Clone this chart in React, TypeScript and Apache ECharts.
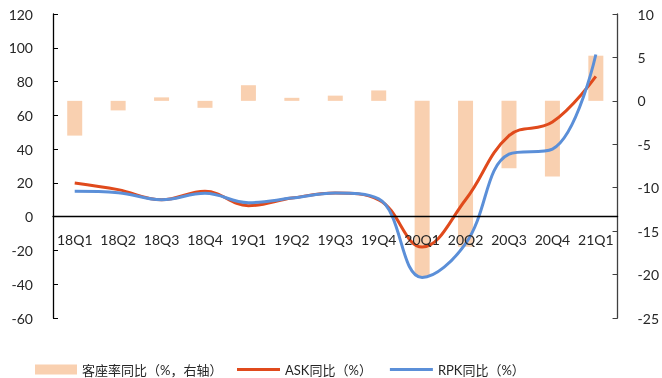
import React, { useEffect, useRef } from "react";
import * as echarts from "echarts";

// Quarter labels
const quarters = [
  "18Q1", "18Q2", "18Q3", "18Q4", "19Q1", "19Q2", "19Q3",
  "19Q4", "20Q1", "20Q2", "20Q3", "20Q4", "21Q1",
];

// Load factor YoY change (pct points, right axis)
const loadFactorYoY = [-4.0, -1.1, 0.4, -0.8, 1.8, 0.35, 0.6, 1.2, -20.2, -16.8, -7.75, -8.7, 5.2];

// ASK YoY (%)
const askYoY = [20, 16, 10, 15, 6.5, 11, 14, 10, -18, 10, 48, 56, 83];

// RPK YoY (%)
const rpkYoY = [15, 14.2, 10, 13.8, 8.3, 11, 14, 10.5, -36, -16, 37, 40, 96];

const FONT = "Lato, 'Noto Sans CJK SC', sans-serif";
const TEXT = "#262626";
const AXIS = "#404040";

// plot area geometry
const GRID_TOP = 14;
const GRID_BOTTOM = 60;
const CHART_H = 378;
const LEFT_MIN = -60;
const LEFT_MAX = 120;

export default function App() {
  const ref = useRef<HTMLDivElement>(null);

  useEffect(() => {
    if (!ref.current) return;
    const chart = echarts.init(ref.current, null, { renderer: "svg" });
    // category axis sits on the left axis' zero line
    const plotH = CHART_H - GRID_TOP - GRID_BOTTOM;
    const zeroOffset = (plotH * (0 - LEFT_MIN)) / (LEFT_MAX - LEFT_MIN);
    chart.setOption({
      animation: false,
      textStyle: { fontFamily: FONT },
      grid: { left: 53, right: 44, top: GRID_TOP, bottom: GRID_BOTTOM, containLabel: false },
      legend: [
        {
          left: 30,
          top: 358,
          itemWidth: 42,
          itemHeight: 10,
          icon: "rect",
          textStyle: { fontSize: 13, color: TEXT, fontFamily: FONT },
          data: ["客座率同比（%，右轴）"],
        },
        {
          left: 232,
          top: 358,
          itemGap: 18,
          itemWidth: 43,
          itemHeight: 3,
          icon: "rect",
          textStyle: { fontSize: 13, color: TEXT, fontFamily: FONT },
          data: ["ASK同比（%）", "RPK同比（%）"],
        },
      ],
      xAxis: {
        type: "category",
        data: quarters,
        position: "bottom",
        offset: -zeroOffset,
        z: 5,
        axisLine: { onZero: false, lineStyle: { color: "#000", width: 1.3 } },
        axisTick: { inside: true, length: 5, lineStyle: { color: "#000" } },
        axisLabel: { color: TEXT, fontSize: 14, margin: 16, interval: 0, fontFamily: FONT },
        splitLine: { show: false },
      },
      yAxis: [
        {
          type: "value",
          min: LEFT_MIN,
          max: LEFT_MAX,
          interval: 20,
          position: "left",
          axisLine: { show: true, lineStyle: { color: "#000", width: 1.3 } },
          axisTick: { show: true, inside: true, length: 5, lineStyle: { color: "#000" } },
          axisLabel: { color: TEXT, fontSize: 14, margin: 20, fontFamily: FONT },
          splitLine: { show: false },
        },
        {
          type: "value",
          min: -25,
          max: 10,
          interval: 5,
          position: "right",
          axisLine: { show: true, lineStyle: { color: AXIS, width: 1.3 } },
          axisTick: { show: true, inside: true, length: 5, lineStyle: { color: AXIS } },
          axisLabel: { color: TEXT, fontSize: 14, margin: 20, fontFamily: FONT },
          splitLine: { show: false },
        },
      ],
      series: [
        {
          name: "客座率同比（%，右轴）",
          type: "bar",
          yAxisIndex: 1,
          data: loadFactorYoY,
          barWidth: 15,
          itemStyle: { color: "#F9D0B0" },
          z: 1,
        },
        {
          name: "ASK同比（%）",
          type: "line",
          yAxisIndex: 0,
          data: askYoY,
          smooth: 0.4,
          symbol: "none",
          lineStyle: { color: "#E04A1C", width: 3 },
          itemStyle: { color: "#E04A1C" },
          z: 3,
        },
        {
          name: "RPK同比（%）",
          type: "line",
          yAxisIndex: 0,
          data: rpkYoY,
          smooth: 0.4,
          symbol: "none",
          lineStyle: { color: "#5B8FD8", width: 3 },
          itemStyle: { color: "#5B8FD8" },
          z: 4,
        },
      ],
    });
    return () => chart.dispose();
  }, []);

  return (
    <div
      ref={ref}
      style={{ position: "fixed", left: 0, top: 0, width: 662, height: 378 }}
    />
  );
}
